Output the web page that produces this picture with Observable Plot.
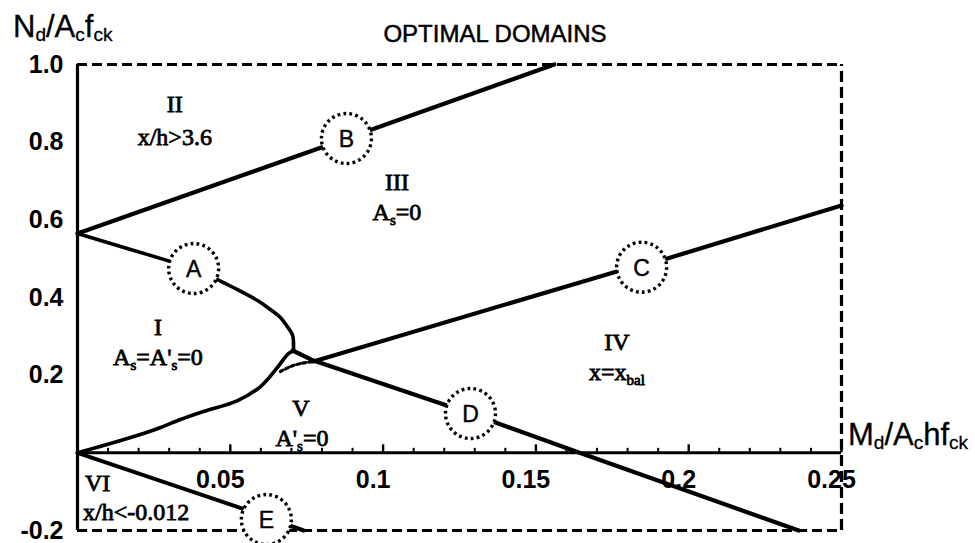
<!DOCTYPE html>
<html>
<head>
<meta charset="utf-8">
<script src="https://cdn.jsdelivr.net/npm/d3@7"></script>
<script src="https://cdn.jsdelivr.net/npm/@observablehq/plot@0.6"></script>
<style>
  html, body { margin: 0; padding: 0; background: #fff; }
</style>
</head>
<body>
<div id="chart"></div>
<script>
// Axis ticks
const xTickValues = [0.05, 0.1, 0.15, 0.2, 0.25];
const xMinorTickValues = [0.01, 0.02, 0.03, 0.04, 0.06, 0.07, 0.08, 0.09, 0.11, 0.12, 0.13, 0.14,
                          0.16, 0.17, 0.18, 0.19, 0.21, 0.22, 0.23, 0.24];
const yTickValues = [1.0, 0.8, 0.6, 0.4, 0.2, -0.2];

// Domain boundaries: [M_d/(A_c h f_ck), N_d/(A_c f_ck)]
const boundaryII_III = [[0, 0.565], [0.08, 0.787], [0.156, 1.0]];
const boundaryI = [
  [0, 0.565], [0.0295, 0.495], [0.038, 0.4746], [0.0458, 0.4463], [0.051, 0.4257],
  [0.0589, 0.3922], [0.0622, 0.3742], [0.0664, 0.3485], [0.0684, 0.3279], [0.0704, 0.302],
  [0.0707, 0.2687], [0.0707, 0.2635], [0.069, 0.2557], [0.0654, 0.2197], [0.0599, 0.1708],
  [0.0524, 0.1347], [0.0412, 0.1064], [0.0337, 0.0858], [0.0272, 0.0652], [0.0216, 0.0497],
  [0.0108, 0.024], [0, 0]
];
const boundaryIV_V = [[0.0704, 0.2635], [0.0772, 0.2377], [0.1286, 0.101], [0.1643, 0], [0.236, -0.2]];
const boundaryIII_IV = [[0.0772, 0.2353], [0.1754, 0.4645], [0.193, 0.5004], [0.25, 0.637]];
const boundaryV_VI = [[0, 0], [0.054, -0.1435], [0.074, -0.2]];
const boundaryDotted = [[0.0664, 0.2094], [0.0697, 0.2222], [0.073, 0.23], [0.0769, 0.2351]];

// Marked points on the boundaries
const markerLabels = ["A", "B", "C", "D", "E"];
const markerX = [0.038, 0.088, 0.1846, 0.1286, 0.0618];
const markerY = [0.4746, 0.8094, 0.478, 0.1013, -0.1718];

// Domain names and conditions
const regionText = [
  [["II"]],
  [["x/h>3.6"]],
  [["III"]],
  [["A"], ["s", "sub"], ["=0"]],
  [["I"]],
  [["A"], ["s", "sub"], ["=A'"], ["s", "sub"], ["=0"]],
  [["IV"]],
  [["x=x"], ["bal", "sub"]],
  [["V"]],
  [["A'"], ["s", "sub"], ["=0"]],
  [["VI"]],
  [["x/h<-0.012"]]
];
const regionX = [0.032, 0.032, 0.1047, 0.1047, 0.0265, 0.0265, 0.1767, 0.1767, 0.0733, 0.0736, 0.0026, 0.002];
const regionY = [0.876, 0.791, 0.675, 0.598, 0.302, 0.225, 0.2635, 0.186, 0.0935, 0.016, -0.0997, -0.174];
const regionAnchor = ["middle", "middle", "middle", "middle", "middle", "middle", "middle", "middle", "middle", "middle", "start", "start"];

const SANS = "'Liberation Sans', Arial, Helvetica, sans-serif";
const SERIF = "'Liberation Serif', 'Times New Roman', serif";

const markers = markerLabels.map((label, i) => ({label, x: markerX[i], y: markerY[i]}));
const pt = {x: d => d[0], y: d => d[1]};

const plot = Plot.plot({
  width: 975,
  height: 543,
  marginLeft: 77,
  marginRight: 134,
  marginTop: 64,
  marginBottom: 13,
  x: {domain: [0, 0.25], axis: null},
  y: {domain: [-0.2, 1.0], axis: null},
  style: {background: "#fff", fontFamily: SANS, color: "#000", overflow: "visible"},
  marks: [
    // dashed frame (left side solid)
    Plot.ruleY([1.0, -0.2], {x1: 0, x2: 0.25, stroke: "#000", strokeWidth: 3.2, strokeDasharray: "10,5"}),
    Plot.ruleX([0.25], {y1: -0.2, y2: 1.0, stroke: "#000", strokeWidth: 3.2, strokeDasharray: "11,5"}),
    Plot.ruleX([0], {y1: -0.2, y2: 1.0, stroke: "#000", strokeWidth: 3.2}),

    // horizontal axis at N = 0 with inward ticks
    Plot.ruleY([0], {x1: 0, x2: 0.25, stroke: "#000", strokeWidth: 3}),
    Plot.ruleX(xMinorTickValues, {y1: 0, y2: 0, insetTop: -4.5, stroke: "#000", strokeWidth: 2}),
    Plot.ruleX(xTickValues, {y1: 0, y2: 0, insetTop: -8, stroke: "#000", strokeWidth: 2.4}),
    Plot.text(xTickValues, {x: d => d, y: 0, text: d => String(d), dx: -10, dy: 27,
      fontSize: 25, fontWeight: "bold", fill: "#000"}),
    Plot.text(yTickValues, {x: 0, y: d => d, text: d => d.toFixed(1), textAnchor: "end", dx: -14,
      fontSize: 25, fontWeight: "bold", fill: "#000"}),

    // domain boundaries
    Plot.line(boundaryII_III, {...pt, stroke: "#000", strokeWidth: 4.2}),
    Plot.line(boundaryIII_IV, {...pt, stroke: "#000", strokeWidth: 4.2}),
    Plot.line(boundaryIV_V, {...pt, stroke: "#000", strokeWidth: 4.2}),
    Plot.line(boundaryV_VI, {...pt, stroke: "#000", strokeWidth: 4}),
    Plot.line(boundaryI, {...pt, stroke: "#000", strokeWidth: 3.6, curve: "catmull-rom", strokeLinejoin: "round"}),
    Plot.line(boundaryDotted, {...pt, stroke: "#000", strokeWidth: 3.2, strokeDasharray: "3,3", curve: "catmull-rom"}),

    // marked points
    Plot.dot(markers, {x: "x", y: "y", r: 25, fill: "#fff", stroke: "#000", strokeWidth: 3.4,
      strokeDasharray: "2.8,3.2"}),
    Plot.text(markers, {x: "x", y: "y", text: "label", fontSize: 23, fill: "#000", dy: 1,
      stroke: "#000", strokeWidth: 0.4})
  ]
});

document.getElementById("chart").append(plot);

const svg = d3.select(plot);
const sx = plot.scale("x");
const sy = plot.scale("y");

// text made of normal and subscript runs
function richText(x, y, parts, {size, subSize, subShift, family, anchor = "start", heavy = 0}) {
  const t = svg.append("text")
    .attr("x", x).attr("y", y)
    .attr("text-anchor", anchor)
    .attr("font-family", family)
    .attr("font-size", size)
    .attr("fill", "#000");
  if (heavy) t.attr("stroke", "#000").attr("stroke-width", heavy);
  let shifted = false;
  for (const [str, kind] of parts) {
    const span = t.append("tspan").text(str);
    if (kind === "sub") {
      span.attr("font-size", subSize);
      if (!shifted) span.attr("dy", subShift);
      shifted = true;
    } else if (shifted) {
      span.attr("dy", -subShift);
      shifted = false;
    }
  }
  return t;
}

// chart title
svg.append("text")
  .attr("x", 495).attr("y", 42)
  .attr("text-anchor", "middle")
  .attr("font-family", SANS)
  .attr("font-size", 24)
  .attr("fill", "#000")
  .attr("stroke", "#000")
  .attr("stroke-width", 0.5)
  .text("OPTIMAL DOMAINS");

// axis titles
richText(13, 37, [["N"], ["d", "sub"], ["/A"], ["c", "sub"], ["f"], ["ck", "sub"]],
  {size: 31, subSize: 19, subShift: 4, family: SANS, heavy: 0.3});
richText(848, 445, [["M"], ["d", "sub"], ["/A"], ["c", "sub"], ["hf"], ["ck", "sub"]],
  {size: 31, subSize: 19, subShift: 4, family: SANS, heavy: 0.3});

// domain labels
regionText.forEach((parts, i) => {
  richText(sx.apply(regionX[i]), sy.apply(regionY[i]), parts,
    {size: 24, subSize: 15, subShift: 5, family: SERIF, anchor: regionAnchor[i], heavy: 0.8});
});
</script>
</body>
</html>
